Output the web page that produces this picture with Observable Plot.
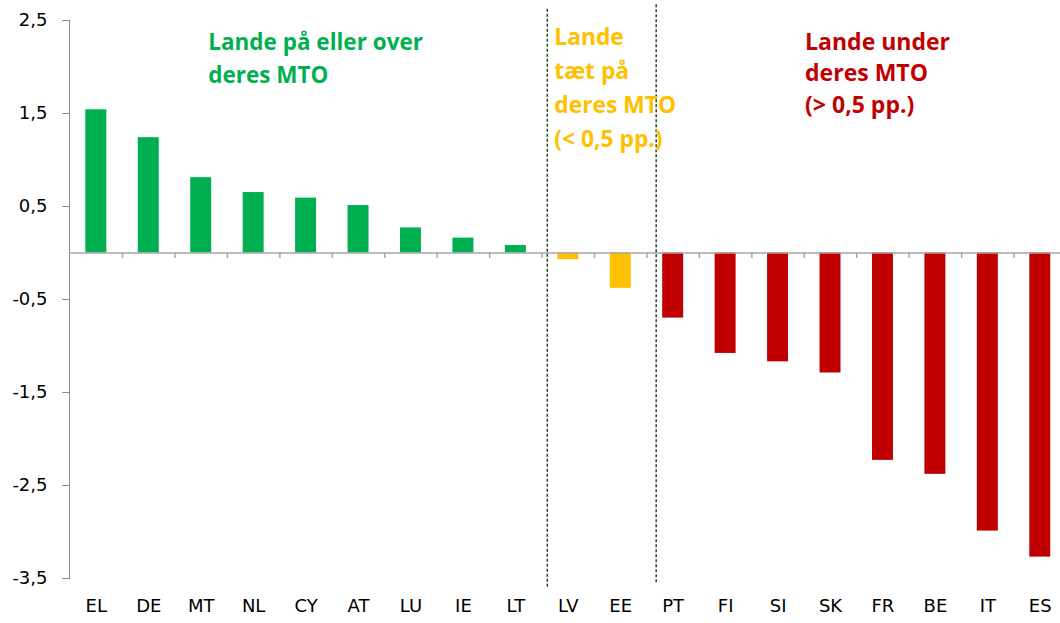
<!DOCTYPE html>
<html><head><meta charset="utf-8">
<script src="https://cdn.jsdelivr.net/npm/d3@7"></script>
<script src="https://cdn.jsdelivr.net/npm/@observablehq/plot@0.6"></script>
<style>body{margin:0;background:#fff}</style>
</head><body><div id="chart"></div>
<script>
const countries = ["EL","DE","MT","NL","CY","AT","LU","IE","LT","LV","EE","PT","FI","SI","SK","FR","BE","IT","ES"];
const values = [1.54,1.24,0.81,0.65,0.59,0.51,0.27,0.16,0.08,-0.07,-0.38,-0.70,-1.08,-1.17,-1.29,-2.23,-2.38,-2.99,-3.27];
const groups = ["over","over","over","over","over","over","over","over","over","close","close","under","under","under","under","under","under","under","under"];
const groupColors = {over:"#00B050", close:"#FFC000", under:"#C00000"};
const yTicks = [-3.5,-2.5,-1.5,-0.5,0.5,1.5,2.5];
const dividers = ["LV","PT"];
const noteTexts = ["Lande på eller over\nderes MTO", "Lande\ntæt på\nderes MTO\n(< 0,5 pp.)", "Lande under\nderes MTO\n(> 0,5 pp.)"];
const noteGroups = ["over","close","under"];
const noteAnchors = ["MT","LV","SI"];

const data = countries.map((c,i)=>({country:c, value:values[i], group:groups[i]}));
const notes = noteTexts.map((t,i)=>({text:t, group:noteGroups[i], x:noteAnchors[i]}));
const fmt = d => d.toFixed(1).replace(".", ",");
const tickFont = "'DejaVu Sans', sans-serif";
const noteFont = "'Open Sans', sans-serif";

const noteOpts = {
  over:  {y:2.428, dx:7,   lh:1.45, size:22.5},
  close: {y:2.493, dx:-14, lh:1.49, size:22.8},
  under: {y:2.428, dx:27,  lh:1.38, size:23}
};
const dividerOpts = {
  LV: {dx:-21, y1:2.62, y2:-3.6},
  PT: {dx:-17, y1:2.67, y2:-3.55}
};

const plot = Plot.plot({
  width:1060, height:623,
  marginLeft:69, marginRight:0, marginTop:20, marginBottom:45,
  style:{fontFamily:tickFont, fontSize:"18px", color:"#000", background:"#fff"},
  x:{domain:countries, range:[69.6, 1066], round:false, paddingInner:0.6, paddingOuter:0.3, label:null},
  y:{domain:[-3.5,2.5], label:null},
  marks:[
    Plot.axisY({ticks:yTicks, tickFormat:fmt, tickSize:7, tickPadding:15, stroke:"#8c8c8c", fill:"#000", label:null}),
    Plot.axisX({tickSize:0, tickPadding:21, fill:"#000", label:null}),
    Plot.frame({anchor:"left", stroke:"#8c8c8c"}),
    Plot.barY(data, {x:"country", y:"value", fill:d=>groupColors[d.group]}),
    Plot.ruleY([0], {stroke:"#a6a6a6", strokeWidth:1.5}),
    Plot.ruleX(countries.slice(1), {y1:0, y2:-0.06, dx:-26.22, stroke:"#a6a6a6", strokeWidth:1.5}),
    ...dividers.map(d => Plot.ruleX([d], {
      y1:dividerOpts[d].y1, y2:dividerOpts[d].y2, dx:dividerOpts[d].dx,
      stroke:"#1f4a1f", strokeDasharray:"3,2", strokeWidth:1.5
    })),
    ...notes.map(n => Plot.text([n], {
      x:"x", y:()=>noteOpts[n.group].y, dx:noteOpts[n.group].dx,
      text:"text", fill:groupColors[n.group], textAnchor:"start", lineAnchor:"top",
      fontFamily:noteFont, fontWeight:"bold", fontSize:noteOpts[n.group].size, lineHeight:noteOpts[n.group].lh
    }))
  ]
});

// clip the middle note at the edge of its text box (as in the original)
const ns = "http://www.w3.org/2000/svg";
const xs = plot.scale("x");
const clipX = xs.apply("PT") + 32;
const defs = document.createElementNS(ns, "defs");
const cp = document.createElementNS(ns, "clipPath");
cp.setAttribute("id", "noteClip");
const r = document.createElementNS(ns, "rect");
r.setAttribute("x", 0); r.setAttribute("y", 0); r.setAttribute("width", clipX); r.setAttribute("height", 623);
cp.appendChild(r); defs.appendChild(cp); plot.insertBefore(defs, plot.firstChild);
const t = [...plot.querySelectorAll("text")].find(e => e.textContent.includes("tæt"));
if (t) {
  const g = t.parentNode;
  const w = document.createElementNS(ns, "g");
  g.parentNode.insertBefore(w, g); w.appendChild(g);
  w.setAttribute("clip-path", "url(#noteClip)");
}
document.getElementById("chart").appendChild(plot);
</script>
</body></html>
